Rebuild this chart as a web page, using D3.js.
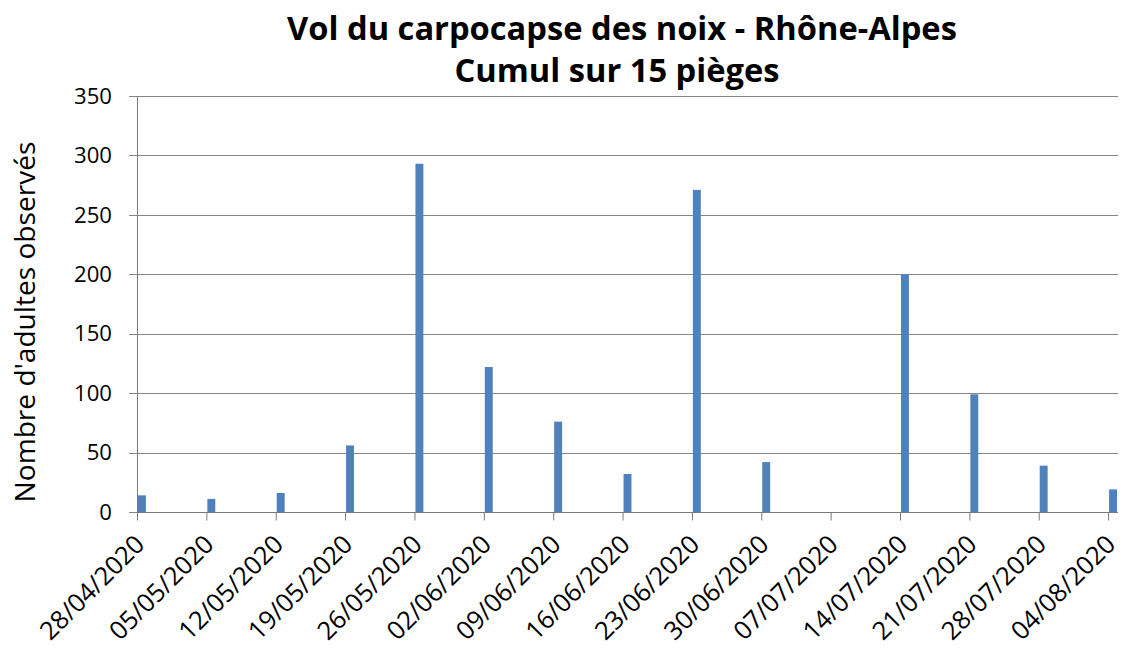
<!DOCTYPE html>
<html>
<head>
<meta charset="utf-8">
<script src="https://cdn.jsdelivr.net/npm/d3@7"></script>
<style>
  html, body { margin: 0; padding: 0; background: #fff; }
  svg { display: block; font-family: "Open Sans", "DejaVu Sans", sans-serif; }
</style>
</head>
<body>
<svg id="chart" width="1125" height="652"></svg>
<script>
// ---- data ----
const dates = ["28/04/2020","05/05/2020","12/05/2020","19/05/2020","26/05/2020","02/06/2020","09/06/2020","16/06/2020","23/06/2020","30/06/2020","07/07/2020","14/07/2020","21/07/2020","28/07/2020","04/08/2020"];
const values = [14, 11, 16, 56, 293, 122, 76, 32, 271, 42, 0, 200, 99, 39, 19];
const yTicks = [0, 50, 100, 150, 200, 250, 300, 350];
const titleLines = ["Vol du carpocapse des noix - Rhône-Alpes", "Cumul sur 15 pièges"];
const yTitle = "Nombre d'adultes observés";

// ---- layout ----
const W = 1125, H = 652;
const plot = { left: 137, right: 1118, top: 96, bottom: 512 };
const parse = d3.utcParse("%d/%m/%Y");
const data = dates.map((d, i) => ({ date: parse(d), label: d, value: values[i] }));

const svg = d3.select("#chart");

const x = d3.scaleUtc()
  .domain([parse("28/04/2020"), d3.utcDay.offset(parse("04/08/2020"), 1)])
  .range([plot.left, plot.right]);
const dayW = x(d3.utcDay.offset(parse("28/04/2020"), 1)) - x(parse("28/04/2020"));

const y = d3.scaleLinear().domain([0, 350]).range([plot.bottom, plot.top]);

function fit(sel, target) {
  sel.attr("font-size", 100);
  const w = sel.node().getComputedTextLength();
  const fs = 100 * target / w;
  sel.attr("font-size", fs);
  return fs;
}

// gridlines
svg.append("g")
  .selectAll("line")
  .data(yTicks)
  .join("line")
  .attr("x1", plot.left - 8)
  .attr("x2", plot.right)
  .attr("y1", d => Math.round(y(d)) + 0.5)
  .attr("y2", d => Math.round(y(d)) + 0.5)
  .attr("stroke", "#868686")
  .attr("stroke-width", 1);

// y axis line
svg.append("line")
  .attr("x1", plot.left + 0.5).attr("x2", plot.left + 0.5)
  .attr("y1", plot.top).attr("y2", plot.bottom + 0.5)
  .attr("stroke", "#7a7a7a");

// y tick labels
const yl = svg.append("g")
  .selectAll("text")
  .data(yTicks)
  .join("text")
  .attr("x", 112)
  .attr("y", d => y(d))
  .attr("dy", "0.35em")
  .attr("text-anchor", "end")
  .attr("fill", "#000")
  .text(d => d);
const yfs = fit(yl.filter(d => d === 350), 38);
yl.attr("font-size", yfs);

// bars
svg.append("g")
  .selectAll("rect")
  .data(data)
  .join("rect")
  .attr("x", d => x(d.date) + dayW * 0.1)
  .attr("width", dayW * 0.8)
  .attr("y", d => y(d.value))
  .attr("height", d => y(0) - y(d.value))
  .attr("fill", "#4F81BD");

// x axis
const xAxis = d3.axisBottom(x)
  .tickValues(data.map(d => d.date))
  .tickSize(8)
  .tickFormat("");
const xg = svg.append("g")
  .attr("transform", `translate(0,${plot.bottom + 0.5})`)
  .call(xAxis);
xg.select(".domain").attr("stroke", "#7a7a7a").attr("d", `M${plot.left},0H${plot.right}`);
xg.selectAll(".tick line").attr("stroke", "#7a7a7a");

// x tick labels (rotated)
const xl = svg.append("g")
  .selectAll("text")
  .data(data)
  .join("text")
  .attr("text-anchor", "end")
  .attr("fill", "#000")
  .attr("transform", d => `translate(${x(d.date) + 9},${546}) rotate(-45)`)
  .text(d => d.label);
const xfs = fit(xl.filter((d, i) => i === 0), 135);
xl.attr("font-size", xfs);

// y axis title
const yt = svg.append("text")
  .attr("transform", `translate(35,${322}) rotate(-90)`)
  .attr("text-anchor", "middle")
  .attr("fill", "#000")
  .text(yTitle);
fit(yt, 361);

// title
const t1 = svg.append("text")
  .attr("x", 622).attr("y", 40)
  .attr("text-anchor", "middle")
  .attr("font-weight", "bold")
  .attr("fill", "#000")
  .text(titleLines[0]);
const tfs = fit(t1, 670);
svg.append("text")
  .attr("x", 617).attr("y", 82)
  .attr("text-anchor", "middle")
  .attr("font-weight", "bold")
  .attr("font-size", tfs)
  .attr("fill", "#000")
  .text(titleLines[1]);
</script>
</body>
</html>
